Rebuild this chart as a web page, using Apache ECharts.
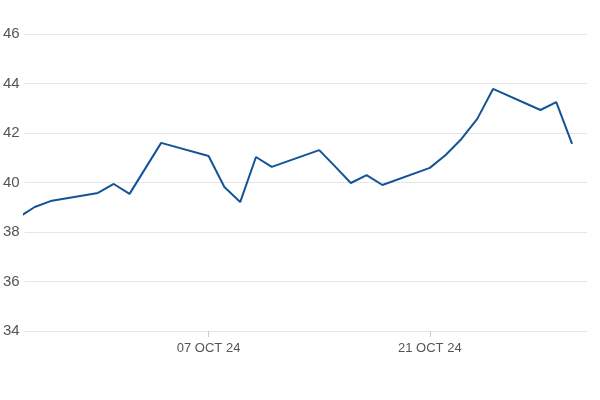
<!DOCTYPE html>
<html>
<head>
<meta charset="utf-8">
<script src="https://cdn.jsdelivr.net/npm/echarts@6/dist/echarts.min.js"></script>
<style>html,body{margin:0;padding:0;background:#fff}#c{width:600px;height:400px}</style>
</head>
<body>
<div id="c"></div>
<script>
const dates = ["2024-09-25","2024-09-26","2024-09-27","2024-09-30","2024-10-01","2024-10-02","2024-10-03","2024-10-04",
  "2024-10-07","2024-10-08","2024-10-09","2024-10-10","2024-10-11","2024-10-14","2024-10-15","2024-10-16","2024-10-17","2024-10-18",
  "2024-10-21","2024-10-22","2024-10-23","2024-10-24","2024-10-25","2024-10-28","2024-10-29","2024-10-30"];
const values = [38.6,39.01,39.25,39.58,39.94,39.54,40.57,41.6,
  41.07,39.82,39.21,41.03,40.63,41.31,40.65,39.98,40.3,39.9,
  40.59,41.11,41.76,42.57,43.78,42.93,43.25,41.56];
const tickDates = ["2024-10-07","2024-10-21"];
const yTicks = [34,36,38,40,42,44,46];
const xMinDate = "2024-09-25T08:45:00Z";
const xMaxDate = "2024-10-30T22:40:00Z";

const months = ["JAN","FEB","MAR","APR","MAY","JUN","JUL","AUG","SEP","OCT","NOV","DEC"];
function ts(s){ return s.length > 10 ? Date.parse(s) : Date.parse(s + "T00:00:00Z"); }
function fmt(v){
  const d = new Date(v);
  const dd = String(d.getUTCDate()).padStart(2,"0");
  return dd + " " + months[d.getUTCMonth()] + " " + String(d.getUTCFullYear()).slice(2);
}
const tickTs = tickDates.map(ts);
const chart = echarts.init(document.getElementById('c'), null, {renderer:'canvas'});
chart.setOption({
  animation:false,
  grid:{left:21,right:13,top:34,bottom:69,containLabel:false},
  xAxis:{
    type:'value',
    min:ts(xMinDate), max:ts(xMaxDate),
    axisLine:{show:false},
    axisTick:{show:true,customValues:tickTs,length:6,lineStyle:{color:'#cccccc'}},
    axisLabel:{customValues:tickTs,formatter:fmt,color:'#555555',fontSize:13,fontFamily:'Liberation Sans, Arial, sans-serif',margin:11,showMinLabel:true,showMaxLabel:true},
    splitLine:{show:false}
  },
  yAxis:{
    type:'value',min:yTicks[0],max:yTicks[yTicks.length-1],interval:2,
    axisLine:{show:false},axisTick:{show:false},
    axisLabel:{color:'#555555',fontSize:15,fontFamily:'Liberation Sans, Arial, sans-serif',margin:5},
    splitLine:{lineStyle:{color:'#e6e6e6',width:1}}
  },
  series:[{
    type:'line',
    data:dates.map((d,i)=>[ts(d),values[i]]),
    showSymbol:false,symbol:'none',
    clip:true,
    lineStyle:{color:'#135496',width:2},
    itemStyle:{color:'#135496'}
  }]
});
</script>
</body>
</html>
